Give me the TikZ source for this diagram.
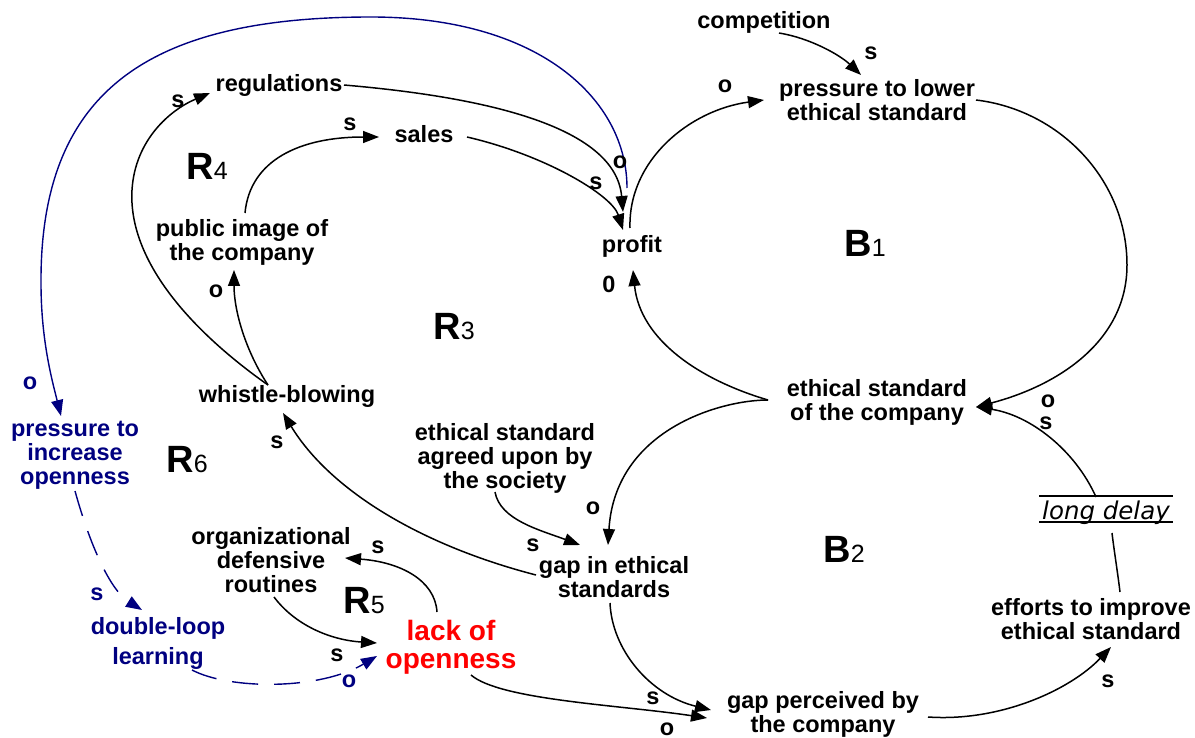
\documentclass[tikz,border=0pt]{standalone}
\usepackage{fontspec}
\setmainfont{Liberation Sans}
\newfontfamily\delayfont{DejaVu Sans}
\usetikzlibrary{arrows.meta}
\definecolor{navy}{RGB}{0,0,128}
\definecolor{pure red}{RGB}{255,0,0}
\newcommand\looplbl[2]{{\fontsize{38}{38}\selectfont\bfseries #1}{\fontsize{25}{25}\selectfont #2}}
\begin{document}
\begin{tikzpicture}[x=1pt,y=-1pt,
  lbl/.style={font=\fontsize{23.5}{24}\selectfont\bfseries, inner sep=0pt, align=center},
  pol/.style={font=\fontsize{23.5}{24}\selectfont\bfseries, inner sep=0pt},
  bluelbl/.style={lbl, text=navy},
  bluepol/.style={pol, text=navy},
  loopname/.style={inner sep=0pt, anchor=base},
  link/.style={line width=1.5pt, -{Triangle[length=16pt,width=12pt]}},
  plainlink/.style={line width=1.5pt},
  bluelink/.style={line width=1.4pt, draw=navy, -{Triangle[length=16pt,width=12pt]}},
  bluedash/.style={bluelink, dash pattern=on 26pt off 16pt},
]
\useasboundingbox (0,0) rectangle (1195,738);

% ---- variables
\node[lbl] (comp) at (764,22) {competition};
\node[lbl] (plow) at (877,100) {pressure to lower\\ethical standard};
\node[lbl] (reg) at (279,85) {regulations};
\node[lbl] (sales) at (424,134) {sales};
\node[lbl] (pub) at (242,242) {public image of\\the company};
\node[lbl] (profit) at (632,246) {profit};
\node[lbl] (esc) at (877,402) {ethical standard\\of the company};
\node[lbl] (wb) at (287,396) {whistle-blowing};
\node[bluelbl] (pio) at (75,455) {pressure to\\increase\\openness};
\node[lbl] (esa) at (505,458) {ethical standard\\agreed upon by\\the society};
\node[lbl] (gap) at (614,577) {gap in ethical\\standards};
\node[lbl] (odr) at (271,560) {organizational\\defensive\\routines};
\node[lbl] (eff) at (1091,619) {efforts to improve\\ethical standard};
\node[bluelbl, font=\fontsize{23.5}{30}\selectfont\bfseries] (dll) at (158,643) {double-loop\\learning};
\node[lbl, text=pure red, font=\fontsize{28}{28}\selectfont\bfseries] (lack) at (451,647) {lack of\\openness};
\node[lbl] (gpc) at (823,714) {gap perceived by\\the company};
\node[inner sep=0pt, anchor=base, font=\delayfont\itshape\fontsize{24.5}{26}\selectfont] (delay) at (1106,519) {long delay};
\draw[line width=1.4pt] ([shift={(-67,-23)}]delay.base) -- ([shift={(67,-23)}]delay.base);
\draw[line width=1.4pt] ([shift={(-67,3)}]delay.base) -- ([shift={(67,3)}]delay.base);

% ---- loop names
\node[loopname] (R4) at (207,180) {\looplbl{R}{4}};
\node[loopname] (R3) at (454,340) {\looplbl{R}{3}};
\node[loopname] (R6) at (187,472) {\looplbl{R}{6}};
\node[loopname] (R5) at (364,613) {\looplbl{R}{5}};
\node[loopname] (B1) at (865,257) {\looplbl{B}{1}};
\node[loopname] (B2) at (844,562) {\looplbl{B}{2}};

% ---- links
\draw[link] ([shift={(15,11)}]comp.center) .. controls (810,38) and (840,55) .. ([shift={(-16,-25)}]plow.center);
\draw[link] ([shift={(-2,-18)}]profit.center) .. controls (628,160) and (690,110) .. ([shift={(-113,0)}]plow.center);
\draw[link] ([shift={(99,0)}]plow.center) .. controls (1060,110) and (1127,180) .. (1127,265)
            .. controls (1127,340) and (1060,385) .. ([shift={(99,5)}]esc.center);
\draw[link] ([shift={(-10,-22)}]delay.base) .. controls (1075,450) and (1030,415) .. ([shift={(99,5)}]esc.center);
\draw[plainlink] ([shift={(29,-27)}]eff.center) .. controls (1118,575) and (1114,550) .. ([shift={(6,14)}]delay.base);
\draw[link] ([shift={(-109,-2)}]esc.center) .. controls (700,380) and (640,340) .. ([shift={(1,24)}]profit.center);
\draw[link] ([shift={(-109,-2)}]esc.center) .. controls (720,400) and (615,430) .. ([shift={(-6,-32)}]gap.center);
\draw[link] ([shift={(-10,34)}]esa.center) .. controls (500,520) and (540,530) .. ([shift={(-34,-32)}]gap.center);
\draw[link] ([shift={(-78,-2)}]gap.center) .. controls (420,545) and (330,490) .. ([shift={(-4,17)}]wb.center);
\draw[link] ([shift={(-19,-11)}]wb.center) .. controls (245,350) and (234,310) .. ([shift={(-8,28)}]pub.center);
\draw[link] ([shift={(-19,-11)}]wb.center) .. controls (190,330) and (128,260) .. (132,190)
            .. controls (135,140) and (170,110) .. ([shift={(-69,8)}]reg.center);
\draw[link] ([shift={(3,-29)}]pub.center) .. controls (250,160) and (300,137) .. ([shift={(-45,3)}]sales.center);
\draw[link] ([shift={(65,0)}]reg.center) .. controls (460,95) and (615,120) .. ([shift={(-9,-34)}]profit.center);
\draw[link] ([shift={(43,3)}]sales.center) .. controls (545,155) and (612,195) .. ([shift={(-9,-16)}]profit.center);
\draw[bluelink] ([shift={(-5,-58)}]profit.center) .. controls (627,100) and (540,17) .. (371,17)
            .. controls (150,17) and (40,90) .. (41,283)
            .. controls (41,340) and (52,380) .. ([shift={(-14,-39)}]pio.center);
\draw[bluedash] ([shift={(0,36)}]pio.center) .. controls (90,545) and (110,590) .. ([shift={(-16,-33)}]dll.center);
\draw[bluedash] ([shift={(34,27)}]dll.center) .. controls (230,690) and (320,690) .. ([shift={(-74,9)}]lack.center);
\draw[link] ([shift={(3,37)}]odr.center) .. controls (295,625) and (330,640) .. ([shift={(-74,-4)}]lack.center);
\draw[link] ([shift={(-14,-35)}]lack.center) .. controls (435,580) and (400,562) .. ([shift={(74,-2)}]odr.center);
\draw[link] ([shift={(20,28)}]lack.center) .. controls (500,700) and (620,705) .. ([shift={(-116,4)}]gpc.center);
\draw[link] ([shift={(-4,26)}]gap.center) .. controls (612,650) and (650,695) .. ([shift={(-112,-4)}]gpc.center);
\draw[link] ([shift={(105,3)}]gpc.center) .. controls (1000,722) and (1070,690) .. ([shift={(20,28)}]eff.center);

% ---- polarities
\node[pol] (p1) at (871,53) {s};
\node[pol] (p2) at (725,86) {o};
\node[pol] (p3) at (178,101) {s};
\node[pol] (p4) at (350,124) {s};
\node[pol] (p5) at (620,162) {o};
\node[pol] (p6) at (596,183) {s};
\node[pol] (p7) at (609,284) {0};
\node[pol] (p8) at (216,291) {o};
\node[bluepol] (p9) at (30,383) {o};
\node[pol] (p10) at (1048,401) {o};
\node[pol] (p11) at (1046,423) {s};
\node[pol] (p12) at (277,442) {s};
\node[pol] (p13) at (593,508) {o};
\node[pol] (p14) at (533,545) {s};
\node[pol] (p15) at (378,547) {s};
\node[bluepol] (p16) at (97,594) {s};
\node[pol] (p17) at (337,655) {s};
\node[bluepol] (p18) at (349,681) {o};
\node[pol] (p19) at (653,698) {s};
\node[pol] (p20) at (667,729) {o};
\node[pol] (p21) at (1108,681) {s};
\end{tikzpicture}
\end{document}
